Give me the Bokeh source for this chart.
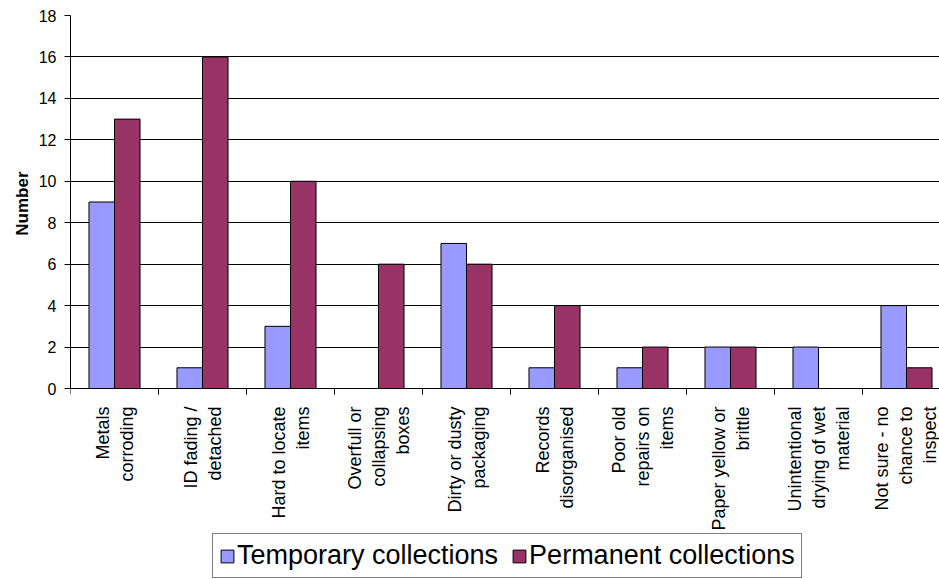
import math
from bokeh.plotting import figure
from bokeh.models import (Range1d, FixedTicker, LinearAxis, Grid, Legend, LegendItem,
                          ColumnDataSource, Title)
from bokeh.embed import file_html
from bokeh.resources import INLINE

categories = ["Metals\ncorroding", "ID fading /\ndetached", "Hard to locate\nitems",
              "Overfull or\ncollapsing\nboxes", "Dirty or dusty\npackaging",
              "Records\ndisorganised", "Poor old\nrepairs on\nitems",
              "Paper yellow or\nbrittle", "Unintentional\ndrying of wet\nmaterial",
              "Not sure - no\nchance to\ninspect"]
temporary = [9, 1, 3, 0, 7, 1, 1, 2, 2, 4]
permanent = [13, 16, 10, 6, 6, 4, 2, 2, 0, 1]
y_ticks = [0, 2, 4, 6, 8, 10, 12, 14, 16, 18]
series_names = ["Temporary collections", "Permanent collections"]
y_title = "Number"

FONT = "Liberation Sans"
BAR_W = 0.29
n = len(categories)
centers = [i + 0.5 for i in range(n)]

# layout: value axis spans 373 px for 0..18, the area below 0 (191 px) holds
# the category labels and the legend
PX_PER_UNIT = 373 / 18
Y_MIN = -191 / PX_PER_UNIT
Y_MAX = y_ticks[-1]

src = ColumnDataSource(dict(
    xt=[c - BAR_W / 2 for c in centers],
    xp=[c + BAR_W / 2 for c in centers],
    temp=temporary, perm=permanent))

p = figure(width=939, height=579, output_backend="svg", toolbar_location=None,
           x_range=Range1d(0, 9.875), y_range=Range1d(Y_MIN, Y_MAX),
           x_axis_type=None, y_axis_type=None,
           min_border_left=70, min_border_right=0, min_border_top=15, min_border_bottom=0)
p.outline_line_color = None
p.background_fill_color = "white"
p.border_fill_color = "white"

# y axis
yaxis = LinearAxis(ticker=FixedTicker(ticks=y_ticks, minor_ticks=[]), bounds=(0, Y_MAX))
yaxis.axis_line_color = "black"
yaxis.major_tick_line_color = "black"
yaxis.major_tick_in = 0
yaxis.major_tick_out = 6
yaxis.minor_tick_line_color = None
yaxis.major_label_text_font = FONT
yaxis.major_label_text_font_size = "16px"
yaxis.major_label_text_color = "black"
yaxis.major_label_standoff = 8
p.add_layout(yaxis, "left")

# y axis title, placed beside the 0..18 part of the axis
ytitle = Title(text=y_title, align="right", offset=156, standoff=8)
ytitle.text_font = FONT
ytitle.text_font_style = "bold"
ytitle.text_font_size = "17px"
ytitle.text_color = "black"
p.add_layout(ytitle, "left")

# x axis at value 0: labels at centres, ticks between categories
xaxis = LinearAxis(ticker=FixedTicker(ticks=centers, minor_ticks=list(range(n + 1))),
                   major_label_overrides={c: lab for c, lab in zip(centers, categories)},
                   fixed_location=0)
xaxis.axis_line_color = "black"
xaxis.major_tick_line_color = None
xaxis.major_tick_in = 0
xaxis.major_tick_out = 0
xaxis.minor_tick_line_color = "black"
xaxis.minor_tick_in = 0
xaxis.minor_tick_out = 6
xaxis.major_label_orientation = math.pi / 2
xaxis.major_label_text_font = FONT
xaxis.major_label_text_font_size = "18px"
xaxis.major_label_text_color = "black"
xaxis.major_label_standoff = 12
p.add_layout(xaxis, "below")

# grid lines
g = Grid(dimension=1, ticker=FixedTicker(ticks=y_ticks[:-1]))
g.grid_line_color = "black"
p.add_layout(g)
g2 = Grid(dimension=1, ticker=FixedTicker(ticks=y_ticks[-1:]))
g2.grid_line_color = "#808080"
p.add_layout(g2)

r1 = p.vbar(x="xt", top="temp", bottom=0, width=BAR_W, source=src,
            fill_color="#9999FF", line_color="black", line_width=1)
r2 = p.vbar(x="xp", top="perm", bottom=0, width=BAR_W, source=src,
            fill_color="#993366", line_color="black", line_width=1)

legend = Legend(items=[LegendItem(label=series_names[0], renderers=[r1]),
                       LegendItem(label=series_names[1], renderers=[r2])],
                orientation="horizontal", location=(142, 1))
legend.label_text_font = FONT
legend.label_text_font_size = "27px"
legend.label_text_color = "black"
legend.glyph_width = 16
legend.glyph_height = 16
legend.label_standoff = 2
legend.spacing = 13
legend.padding = 6
legend.margin = 0
legend.border_line_color = "black"
legend.border_line_width = 1
legend.background_fill_color = "white"
legend.background_fill_alpha = 1
p.add_layout(legend, "center")

open("out.html", "w").write(file_html(p, INLINE))
